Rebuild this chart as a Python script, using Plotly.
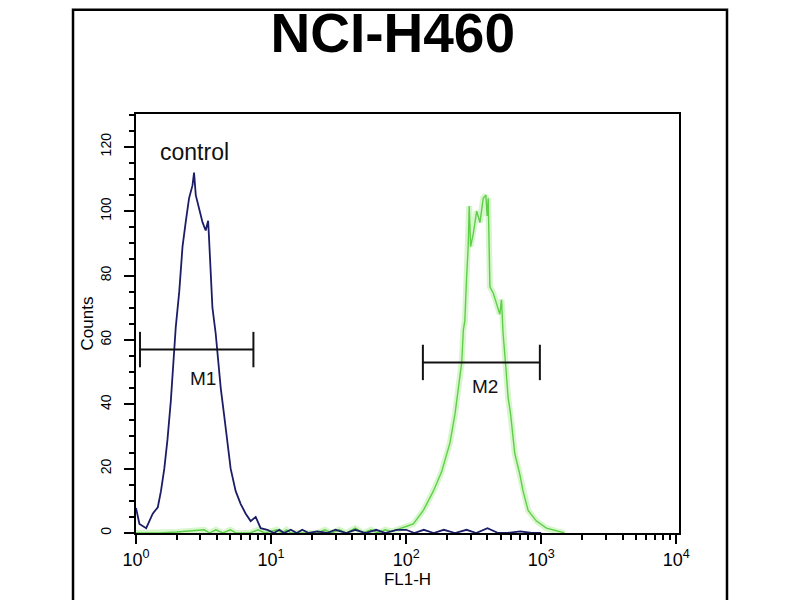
import math
import plotly.graph_objects as go

# ---- data ----
title_text = "NCI-H460"
x_label = "FL1-H"
y_label = "Counts"

control_fl1 = [1.00, 1.06, 1.19, 1.33, 1.45, 1.53, 1.62, 1.71, 1.81, 1.90, 1.97, 2.09, 2.15,
               2.21, 2.34, 2.47, 2.62, 2.69, 2.77, 2.93, 3.11, 3.28, 3.42, 3.47, 3.58, 3.68,
               3.89, 4.05, 4.24, 4.48, 4.75, 5.02, 5.47, 5.96, 6.49, 7.06, 7.69, 8.37, 9.38,
               10.5, 11.5, 12.5, 14, 15.5, 17, 19, 22, 26, 30, 36, 42, 50, 60, 70, 85, 100,
               115, 135, 160, 190, 230, 280, 330, 400, 480, 560, 700, 850, 1000]
control_counts = [7.8, 2.8, 1.5, 6, 8, 13, 20, 29, 41, 54, 64, 75, 82,
                  89, 97, 104, 108, 112, 105, 101, 96.5, 94, 97, 92, 82, 70,
                  62, 54, 45, 37, 29, 20, 13, 9, 6, 3.7, 5, 1.5, 1,
                  0, 1, 0, 1, 0, 1, 0, 0.5, 0, 1, 0, 1, 0, 1, 0, 1, 1,
                  0, 1, 0, 1, 0, 1, 0, 1.5, 0, 0, 0.5, 0, 0]

sample_fl1 = [1.0, 1.5, 2.0, 3.2, 3.5, 3.9, 4.4, 5.0, 5.5, 7, 8, 9, 11, 12, 13, 14, 16, 22,
              25, 28, 32, 36, 42, 48, 55, 62, 70, 78, 85, 92,
              95, 113, 134, 159, 183, 211, 230, 243, 258, 265, 272, 280, 288, 293, 300,
              314, 333, 352, 372, 389, 398, 405, 417, 441, 467, 494, 508, 522, 547,
              569, 593, 603, 637, 693, 734, 800, 922, 1092, 1294, 1490]
sample_counts = [0, 0, 0.3, 1, 0, 1, 0, 1, 0, 0, 1, 0, 1, 0, 1, 0, 0, 0,
                 1, 0, 1, 0, 1.5, 0, 1, 0, 1, 0.5, 1, 1.5,
                 1.5, 2.8, 7, 13, 19, 28, 37, 44, 53, 63, 66, 79, 89, 101.6, 89,
                 93, 100, 96.5, 104, 105, 98.5, 104, 76.5, 74.6, 71.5, 68, 72.5, 62, 51.5,
                 42, 37, 34, 24.7, 18.4, 13, 7, 3.7, 1.5, 0.6, 0]

gate_names = ["M1", "M2"]
gate_lo = [1.07, 133]
gate_hi = [7.4, 977]
gate_level = [57, 53]
gate_half = [5.5, 5.5]
gate_label_x = [3.13, 384]
gate_label_y = [48, 45.5]

control_label = "control"
control_label_x = 2.73
control_label_y = 118.5

x_tickvals = [1, 10, 100, 1000, 10000]
x_ticktext = ["10<sup>0</sup>", "10<sup>1</sup>", "10<sup>2</sup>", "10<sup>3</sup>", "10<sup>4</sup>"]
y_tickvals = [0, 20, 40, 60, 80, 100, 120]

FONT = "Liberation Sans, Arial, sans-serif"

fig = go.Figure()

# green glow + line
fig.add_trace(go.Scatter(x=sample_fl1, y=sample_counts, mode="lines",
                         line=dict(color="rgba(140,230,110,0.35)", width=6),
                         hoverinfo="skip", showlegend=False))
fig.add_trace(go.Scatter(x=sample_fl1, y=sample_counts, mode="lines",
                         line=dict(color="#5fcf4a", width=1.4), showlegend=False))
# control (blue)
fig.add_trace(go.Scatter(x=control_fl1, y=control_counts, mode="lines",
                         line=dict(color="#1b1d66", width=1.8), showlegend=False))

# gates
for i in range(len(gate_names)):
    xs = [gate_lo[i], gate_lo[i], None, gate_lo[i], gate_hi[i], None, gate_hi[i], gate_hi[i]]
    ys = [gate_level[i] - gate_half[i], gate_level[i] + gate_half[i], None,
          gate_level[i], gate_level[i], None,
          gate_level[i] - gate_half[i], gate_level[i] + gate_half[i]]
    fig.add_trace(go.Scatter(x=xs, y=ys, mode="lines",
                             line=dict(color="#111111", width=2), showlegend=False))
    # annotations on a log axis are positioned in log10 units
    fig.add_annotation(x=math.log10(gate_label_x[i]), y=gate_label_y[i], xref="x", yref="y",
                       text=gate_names[i], showarrow=False,
                       font=dict(family=FONT, size=19, color="#111111"))

fig.add_annotation(x=math.log10(control_label_x), y=control_label_y, xref="x", yref="y",
                   text=control_label, showarrow=False,
                   font=dict(family=FONT, size=23, color="#111111"))

# outer frame
fig.add_shape(type="rect", xref="paper", yref="paper",
              x0=-0.116, x1=1.0884, y0=-0.25, y1=1.249,
              line=dict(color="black", width=2.5), fillcolor="rgba(0,0,0,0)", layer="below")

fig.update_layout(
    width=800, height=600,
    margin=dict(l=128, r=129, t=106, b=75),
    paper_bgcolor="white", plot_bgcolor="white",
    title=dict(text="<b>" + title_text + "</b>", x=0.481, xanchor="center",
               y=0.958, yanchor="middle",
               font=dict(family=FONT, size=55, color="black")),
    showlegend=False,
)

fig.update_xaxes(type="log", range=[0, 4.02],
                 tickmode="array", tickvals=x_tickvals, ticktext=x_ticktext,
                 ticks="outside", ticklen=9, tickwidth=2, tickcolor="black",
                 showline=True, linecolor="black", linewidth=2, mirror=True,
                 showgrid=False, zeroline=False,
                 tickfont=dict(family=FONT, size=18, color="black"),
                 minor=dict(ticks="outside", ticklen=5, tickwidth=1.5, tickcolor="black",
                            dtick="D1", showgrid=False),
                 title=dict(text=x_label, standoff=3,
                            font=dict(family=FONT, size=17, color="black")))

fig.update_yaxes(range=[0, 130.2],
                 tickmode="array", tickvals=y_tickvals, tickangle=-90,
                 ticks="outside", ticklen=10, tickwidth=2, tickcolor="black",
                 ticklabelstandoff=7,
                 showline=True, linecolor="black", linewidth=2, mirror=True,
                 showgrid=False, zeroline=False,
                 tickfont=dict(family=FONT, size=14, color="black"),
                 minor=dict(ticks="outside", ticklen=5, tickwidth=1.5, tickcolor="black",
                            dtick=5, showgrid=False),
                 title=dict(text=y_label, standoff=0,
                            font=dict(family=FONT, size=17, color="black")))

fig.write_html("out.html")
